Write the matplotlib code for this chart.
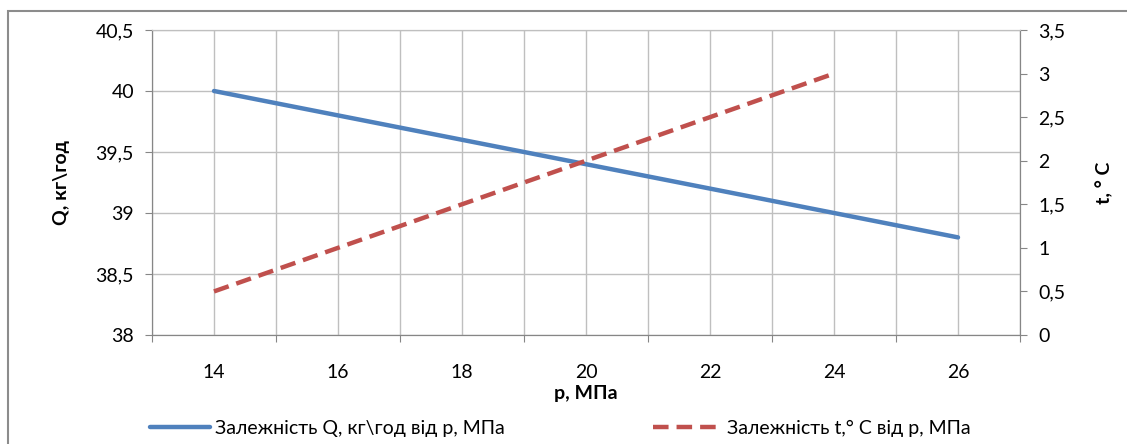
import matplotlib.pyplot as plt
from matplotlib.ticker import FuncFormatter, MultipleLocator
from matplotlib.patches import Rectangle

# Data
p_q = [14, 16, 18, 20, 22, 24, 26]
q_vals = [40.0, 39.8, 39.6, 39.4, 39.2, 39.0, 38.8]
p_t = [14, 16, 18, 20, 22, 24]
t_vals = [0.5, 1.0, 1.5, 2.0, 2.5, 3.0]
x_labels = [14, 16, 18, 20, 22, 24, 26]

plt.rcParams['font.family'] = ['Lato', 'DejaVu Sans']

blue = '#4F81BD'
red = '#C0504D'
grid_c = '#BFBFBF'
axis_c = '#868686'
fs = 14

fig = plt.figure(figsize=(11.27, 4.44), dpi=100)
ax = fig.add_axes([152 / 1127, 1 - 335 / 444, (1020 - 152) / 1127, (335 - 30) / 444])
ax2 = ax.twinx()

# outer chart border (cut at the right and bottom like the original)
fig.patches.append(Rectangle((8 / 1127, -0.05), 1.2, 1 - 11 / 444 + 0.05,
                             transform=fig.transFigure, fill=False,
                             edgecolor='#8C8C8C', linewidth=1.5))

fmt = FuncFormatter(lambda v, pos: ('%g' % v).replace('.', ','))

ax.set_xlim(13, 27)
ax.set_ylim(38, 40.5)
ax2.set_ylim(0, 3.5)

# tick marks at odd values, labels at even values
ax.set_xticks(range(13, 28, 2))
ax.set_xticklabels([])
ax.set_xticks(x_labels, minor=True)
ax.set_xticklabels([str(v) for v in x_labels], minor=True)
ax.tick_params(axis='x', which='major', length=5, color=axis_c, direction='out')
ax.tick_params(axis='x', which='minor', length=0, pad=21, labelsize=fs)

ax.yaxis.set_major_locator(MultipleLocator(0.5))
ax.yaxis.set_major_formatter(fmt)
ax.tick_params(axis='y', length=5, color=axis_c, labelsize=fs, pad=8)
ax2.yaxis.set_major_locator(MultipleLocator(0.5))
ax2.yaxis.set_major_formatter(fmt)
ax2.tick_params(axis='y', length=5, color=axis_c, labelsize=fs, pad=8)

ax.grid(True, which='both', axis='x', color=grid_c, linewidth=1)
ax.grid(True, which='major', axis='y', color=grid_c, linewidth=1)
ax.set_axisbelow(True)

for a in (ax, ax2):
    for side in ('left', 'right', 'bottom'):
        a.spines[side].set_color(axis_c)
    a.spines['top'].set_color(grid_c)

l1, = ax.plot(p_q, q_vals, color=blue, linewidth=3.2,
              solid_capstyle='round', label='Залежність Q, кг\\год від p, МПа')
l2, = ax2.plot(p_t, t_vals, color=red, linewidth=3.2, dashes=(3.5, 1.8),
               label='Залежність t,° С від p, МПа')

ax.set_xlabel('p, МПа', fontsize=fs, fontweight='bold', labelpad=3)
ax.set_ylabel('Q, кг\\год', fontsize=fs, fontweight='bold', labelpad=18)
ax2.set_ylabel('t, ° С', fontsize=fs, fontweight='bold', labelpad=22)

leg1 = fig.legend(handles=[l1], loc='center left', bbox_to_anchor=(132 / 1127, 1 - 428 / 444),
                  frameon=False, fontsize=fs, handlelength=3.1, handletextpad=0.25)
leg2 = fig.legend(handles=[l2], loc='center left', bbox_to_anchor=(635 / 1127, 1 - 428 / 444),
                  frameon=False, fontsize=fs, handlelength=3.6, handletextpad=0.25)

fig.savefig('out.png', dpi=100)
